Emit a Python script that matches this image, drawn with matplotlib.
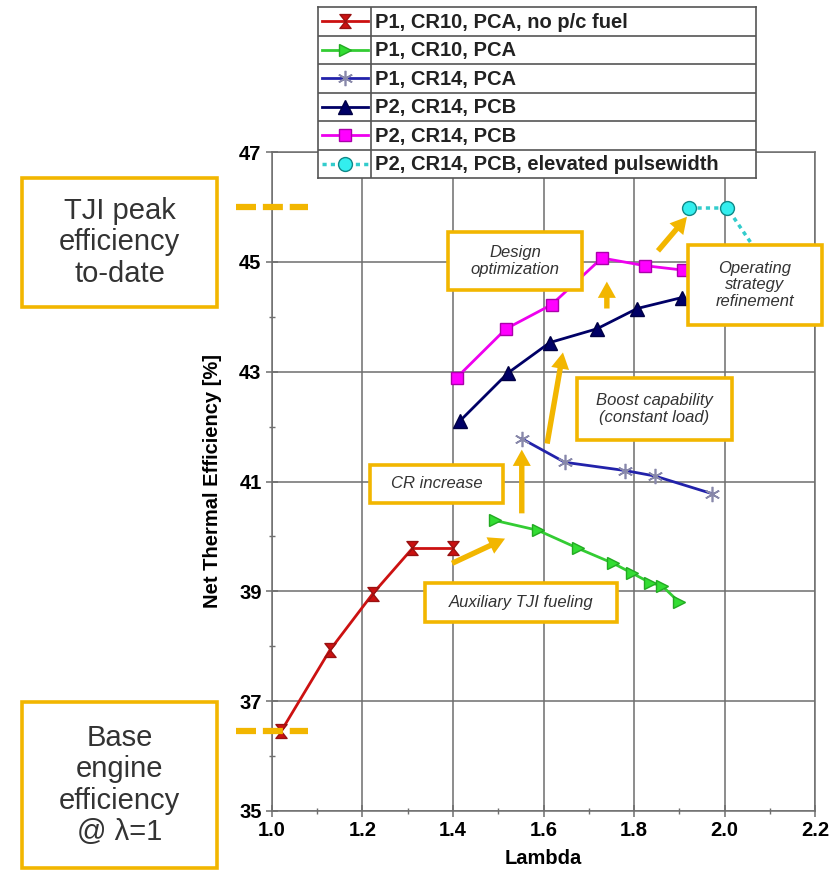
import matplotlib
matplotlib.use("Agg")
import matplotlib.pyplot as plt
from matplotlib.path import Path
from matplotlib.patches import Rectangle

plt.rcParams["font.family"] = ["Liberation Sans", "DejaVu Sans"]

# ------------------------------------------------------------------ #
# Data
# ------------------------------------------------------------------ #
red_x = [1.02, 1.128, 1.223, 1.31, 1.40]
red_y = [36.45, 37.93, 38.96, 39.78, 39.78]

green_x = [1.493, 1.588, 1.677, 1.754, 1.796, 1.835, 1.862, 1.90]
green_y = [40.29, 40.11, 39.78, 39.51, 39.33, 39.16, 39.10, 38.80]

blue_x = [1.552, 1.647, 1.78, 1.846, 1.972]
blue_y = [41.78, 41.35, 41.20, 41.10, 40.78]

navy_x = [1.415, 1.522, 1.614, 1.718, 1.807, 1.906]
navy_y = [42.10, 42.98, 43.53, 43.78, 44.15, 44.35]

mag_x = [1.408, 1.517, 1.618, 1.729, 1.824, 1.908]
mag_y = [42.89, 43.78, 44.22, 45.07, 44.93, 44.85]

cyan_x = [1.922, 2.006, 2.12]
cyan_y = [45.98, 45.98, 44.60]

labels = [
    "P1, CR10, PCA, no p/c fuel",
    "P1, CR10, PCA",
    "P1, CR14, PCA",
    "P2, CR14, PCB",
    "P2, CR14, PCB",
    "P2, CR14, PCB, elevated pulsewidth",
]

x_ticks = [1.0, 1.2, 1.4, 1.6, 1.8, 2.0, 2.2]
x_minor = [1.1, 1.3, 1.5, 1.7, 1.9, 2.1]
y_ticks = [35, 37, 39, 41, 43, 45, 47]
y_minor = [36, 38, 40, 42, 44, 46]

peak_eff = 46.0
base_eff = 36.45

# arrows: (x_start, y_start, x_end, y_end)
arrows = [
    (1.398, 39.51, 1.515, 39.96),
    (1.552, 40.42, 1.552, 41.58),
    (1.608, 41.69, 1.643, 43.35),
    (1.740, 44.15, 1.740, 44.64),
    (1.853, 45.20, 1.917, 45.82),
]

W, H = 839, 876
GOLD = "#F2B600"
TXT = "#333333"

hourglass = Path(
    [(-0.8, 1), (0.8, 1), (0, 0), (-0.8, 1), (-0.8, -1), (0.8, -1), (0, 0), (-0.8, -1)],
    [Path.MOVETO, Path.LINETO, Path.LINETO, Path.CLOSEPOLY,
     Path.MOVETO, Path.LINETO, Path.LINETO, Path.CLOSEPOLY],
)

styles = [
    dict(color="#CC1111", lw=2, marker=hourglass, ms=10, mfc="#CC1111", mec="#991111"),
    dict(color="#33CC33", lw=2, marker=">", ms=9, mfc="#33DD33", mec="#22AA22"),
    dict(color="#2222AA", lw=2, marker=(6, 2, 0), ms=11, mfc="#8888AA", mec="#8888AA", mew=1.2),
    dict(color="#000066", lw=2, marker="^", ms=10, mfc="#000066", mec="#000044"),
    dict(color="#EE00EE", lw=2, marker="s", ms=9, mfc="#FF00FF", mec="#AA00AA"),
    dict(color="#33CCCC", lw=2.5, ls=(0, (1.2, 1.2)), marker="o", ms=10, mfc="#33EEEE", mec="#118888"),
]
series = [(red_x, red_y), (green_x, green_y), (blue_x, blue_y),
          (navy_x, navy_y), (mag_x, mag_y), (cyan_x, cyan_y)]


def fig_rect(x0, y0, x1, y1):
    """pixel box (top-left origin) -> figure fraction [l, b, w, h]"""
    return [x0 / W, 1 - y1 / H, (x1 - x0) / W, (y1 - y0) / H]


fig = plt.figure(figsize=(W / 100, H / 100), dpi=100)
ax = fig.add_axes(fig_rect(272, 152, 815, 811))

for (xs, ys), st in zip(series, styles):
    ax.plot(xs, ys, zorder=3, **st)

ax.set_xlim(1.0, 2.2)
ax.set_ylim(35, 47)
ax.set_xticks(x_ticks)
ax.set_xticks(x_minor, minor=True)
ax.set_yticks(y_ticks)
ax.set_yticks(y_minor, minor=True)
ax.set_xticklabels([f"{v:.1f}" for v in x_ticks])
ax.set_yticklabels([str(v) for v in y_ticks])
ax.grid(True, which="major", color="#6E6E6E", lw=1.1)
for s in ax.spines.values():
    s.set_color("#6E6E6E")
    s.set_linewidth(1.1)
ax.tick_params(which="major", direction="inout", length=9, width=1.1, color="#6E6E6E",
               labelsize=14.5, pad=3)
ax.tick_params(which="minor", direction="inout", length=4, width=1, color="#6E6E6E")
for lab in ax.get_xticklabels() + ax.get_yticklabels():
    lab.set_fontweight("bold")
ax.set_xlabel("Lambda", fontsize=14.5, fontweight="bold", labelpad=6)
ax.set_ylabel("Net Thermal Efficiency [%]", fontsize=14.5, fontweight="bold", labelpad=12)

# dashed gold reference markers at the y axis
for yv in (peak_eff, base_eff):
    ax.plot([0.92, 1.08], [yv, yv], color=GOLD, lw=4.5, dashes=(3.2, 1.1),
            solid_capstyle="butt", clip_on=False, zorder=4)

for x0, y0, x1, y1 in arrows:
    ax.annotate("", xy=(x1, y1), xytext=(x0, y0), zorder=5,
                arrowprops=dict(arrowstyle="simple,head_length=0.9,head_width=1.0,tail_width=0.3",
                                color=GOLD, lw=0, shrinkA=0, shrinkB=0, mutation_scale=13))


def box(px, text, size, style="italic"):
    l, b, w, h = fig_rect(*px)
    fig.add_artist(Rectangle((l, b), w, h, transform=fig.transFigure, facecolor="white",
                             edgecolor=GOLD, lw=2.6, zorder=6))
    fig.text(l + w / 2, b + h / 2, text, ha="center", va="center", fontsize=size,
             style=style, color=TXT, zorder=7, linespacing=1.15)


box((22, 178, 217, 307), "TJI peak\nefficiency\nto-date", 21, "normal")
box((22, 702, 217, 868), "Base\nengine\nefficiency\n@ \u03bb=1", 21, "normal")
box((448, 232, 582, 290), "Design\noptimization", 12)
box((688, 245, 822, 325), "Operating\nstrategy\nrefinement", 12)
box((577, 378, 732, 440), "Boost capability\n(constant load)", 12)
box((370, 465, 503, 503), "CR increase", 12)
box((425, 583, 617, 622), "Auxiliary TJI fueling", 12)

# table-style legend
lax = fig.add_axes(fig_rect(318, 7, 756, 178))
lax.set_xlim(0, 438)
lax.set_ylim(len(labels), 0)
lax.set_xticks([])
lax.set_yticks([])
for s in lax.spines.values():
    s.set_color("#555555")
    s.set_linewidth(1.2)
lax.axvline(53, color="#555555", lw=1.2)
for i, (lab, st) in enumerate(zip(labels, styles)):
    if i:
        lax.axhline(i, color="#555555", lw=1.2)
    yc = i + 0.5
    lax.plot([4, 50], [yc, yc], clip_on=False, **{k: v for k, v in st.items() if k != "marker"},
             marker=None)
    lax.plot([27], [yc], ls="none", **{k: v for k, v in st.items() if k not in ("lw", "ls", "color")},
             color=st["color"])
    lax.text(57, yc + 0.03, lab, va="center", ha="left", fontsize=14.5, fontweight="bold",
             color="#222222")

fig.savefig("out.png", dpi=100)
